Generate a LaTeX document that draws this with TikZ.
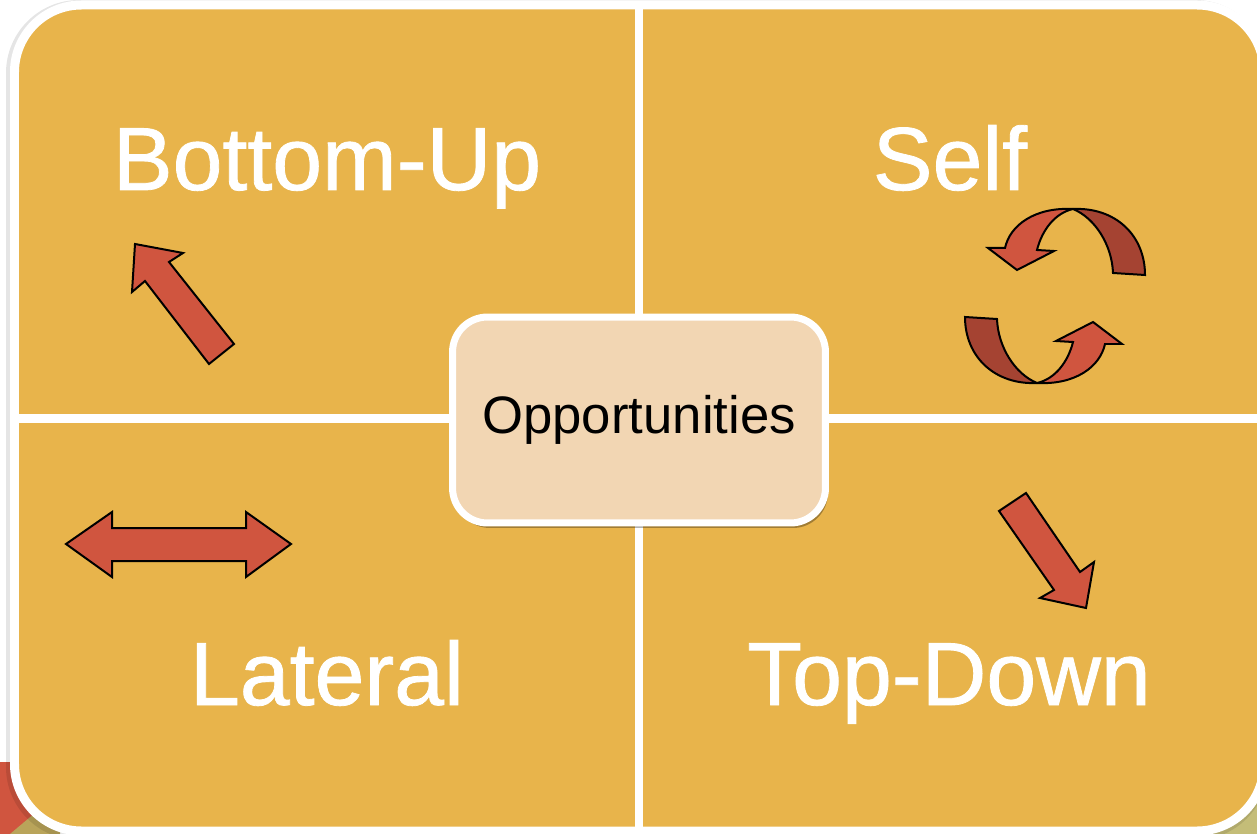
\documentclass[tikz,border=0pt]{standalone}
\usepackage{fontspec}
\setmainfont{Liberation Sans}
\newfontfamily\heavyfont[FakeBold=0.9]{Liberation Sans}
\usetikzlibrary{shadows}
\definecolor{gold}{HTML}{E8B44B}
\definecolor{peach}{HTML}{F2D6B3}
\definecolor{arrowred}{HTML}{D0553F}
\definecolor{backred}{HTML}{A54332}
\definecolor{oliveL}{HTML}{B9A45A}
\definecolor{oliveR}{HTML}{C4BD78}
\begin{document}
\begin{tikzpicture}[x=0.02cm, y=-0.02cm,
    quadtext/.style={white, anchor=base, font=\heavyfont\fontsize{51}{60}\selectfont},
    oppbox/.style={draw=white, fill=peach, line width=0.14cm, rounded corners=0.7cm,
      minimum width=7.46cm, minimum height=4.12cm, font=\fontsize{30}{36}\selectfont,
      drop shadow={shadow xshift=0.05cm, shadow yshift=-0.1cm, opacity=0.3, fill=black}},
    flat/.style={fill=arrowred, draw=black, line width=0.04cm, line join=miter},
    back/.style={fill=backred, draw=black, line width=0.04cm}]
      \useasboundingbox (0,0) rectangle (1257,834);
      \clip (0,0) rectangle (1257,834);
      % slide behind
      \fill[arrowred] (0,762) rectangle (45,834);
      \fill[oliveL] (10,834) -- (60,792) -- (60,834) -- cycle;
      \fill[oliveR] (1205,834) -- (1257,782) -- (1257,834) -- cycle;
      % panels
      \draw[black, opacity=0.1, line width=0.24cm, rounded corners=1.34cm] (12,6) rectangle (1262,834);
      \draw[fill=gold, draw=white, line width=0.18cm, rounded corners=1.34cm] (14.5,5) rectangle (1264,831);
      \draw[white, line width=0.17cm] (639,5) -- (639,831) (14.5,418.5) -- (1264,418.5);

      \foreach \x/\y/\t/\n in {327/190/Bottom-Up/bu, 950/190/Self/self, 327/705/Lateral/lat, 949/705/Top-Down/td} {
        \node[quadtext] (\n) at (\x,\y) {\t};
      }

      % arrows
      \draw[flat] (135,244) -- (183,253) -- (169,262) -- (234,344) -- (209,364) -- (145,281) -- (132,292) -- cycle;
      \draw[flat] (999,511) -- (1026,493) -- (1080,572) -- (1094,562) -- (1086,608) -- (1040,598) -- (1054,590) -- cycle;
      \draw[flat] (66,544) -- (112,512) -- (112,528) -- (246,528) -- (246,512) -- (291,544)
        -- (246,577) -- (246,561) -- (112,561) -- (112,577) -- cycle;
      \foreach \a in {0,180} {
        \begin{scope}[rotate around={\a:(1055,296)}]
          \draw[back] (1073,209) .. controls (1115,207) and (1145,235) .. (1145,275) -- (1113,273)
            .. controls (1112,245) and (1095,218) .. (1073,209) -- cycle;
          \draw[flat] (1073,209) .. controls (1035,207) and (1010,225) .. (1005,248) -- (988,248) -- (1017,270)
            -- (1054,251) -- (1037,250) .. controls (1042,230) and (1055,213) .. (1073,209) -- cycle;
        \end{scope}
      }

      \node[oppbox] (opp) at (639,420) {Opportunities};
\end{tikzpicture}
\end{document}
